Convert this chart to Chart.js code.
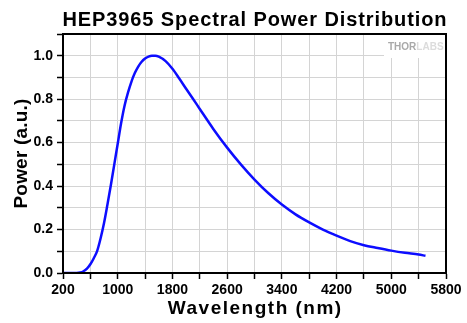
<!DOCTYPE html>
<html>
<head>
<meta charset="utf-8">
<script src="https://cdn.jsdelivr.net/npm/chart.js@4.4.1/dist/chart.umd.min.js"></script>
<style>
  html, body { margin: 0; padding: 0; background: #fff; }
  #wrap { width: 467px; height: 323px; }
</style>
</head>
<body>
<div id="wrap"><canvas id="spdChart"></canvas></div>
<script>
// Values
var wavelengths = [200, 300, 400, 450, 500, 550, 600, 650, 700, 750, 800, 850, 900, 950, 1000,
  1050, 1100, 1150, 1200, 1250, 1300, 1350, 1400, 1450, 1500, 1550, 1600, 1700, 1800, 1900,
  2000, 2100, 2200, 2400, 2600, 2800, 3000, 3200, 3400, 3600, 3800, 4000, 4200, 4400, 4600,
  4800, 5000, 5200, 5400, 5500];
var power = [0, 0, 0, 0.002, 0.008, 0.02, 0.04, 0.068, 0.102, 0.16, 0.23, 0.315, 0.405, 0.5, 0.595,
  0.69, 0.77, 0.83, 0.88, 0.92, 0.95, 0.972, 0.987, 0.996, 1.0, 1.0, 0.996, 0.975, 0.94, 0.895,
  0.848, 0.802, 0.755, 0.662, 0.577, 0.5, 0.43, 0.368, 0.315, 0.27, 0.233, 0.2, 0.172, 0.147, 0.128,
  0.115, 0.103, 0.093, 0.085, 0.079];

var chartTitle = "HEP3965 Spectral Power Distribution";
var xTitle = "Wavelength (nm)";
var yTitle = "Power (a.u.)";
var xMin = 200, xMax = 5800, xStep = 400, xLabelStep = 800;
var yMin = 0, yMax = 1.1, yStep = 0.1;

var FONT = "'Liberation Sans', Arial, sans-serif";

// titles, frame and logo drawn by hand so letter spacing can match
var decorPlugin = {
  id: "decor",
  beforeDatasetsDraw: function (chart) {
    var ctx = chart.ctx, a = chart.chartArea;
    // white patch behind logo
    ctx.save();
    ctx.fillStyle = "#fff";
    ctx.fillRect(a.right - 62, a.top, 62, 24);
    ctx.font = "bold 10px " + FONT;
    ctx.textBaseline = "middle";
    ctx.textAlign = "left";
    var lx = a.right - 58, ly = a.top + 13;
    ctx.fillStyle = "#a9a9a9";
    ctx.fillText("THOR", lx, ly);
    var w = ctx.measureText("THOR").width;
    ctx.fillStyle = "#dcdcdc";
    ctx.fillText("LABS", lx + w, ly);
    ctx.restore();
  },
  afterDraw: function (chart) {
    var ctx = chart.ctx, a = chart.chartArea;
    ctx.save();
    ctx.strokeStyle = "#000";
    ctx.lineWidth = 2;
    ctx.strokeRect(a.left, a.top, a.right - a.left, a.bottom - a.top);

    ctx.fillStyle = "#000";
    ctx.textAlign = "center";
    ctx.textBaseline = "middle";
    var cx = (a.left + a.right) / 2;

    ctx.font = "bold 20px " + FONT;
    ctx.letterSpacing = "0.9px";
    ctx.fillText(chartTitle, cx + 0.45, 20);

    ctx.font = "bold 19px " + FONT;
    ctx.letterSpacing = "1.5px";
    ctx.fillText(xTitle, cx + 0.75, 309);

    ctx.letterSpacing = "0.2px";
    ctx.translate(22, (a.top + a.bottom) / 2);
    ctx.rotate(-Math.PI / 2);
    ctx.fillText(yTitle, 0, 0);
    ctx.restore();
  }
};

var ctx = document.getElementById("spdChart").getContext("2d");
var spdChart = new Chart(ctx, {
  type: "line",
  data: {
    labels: wavelengths,
    datasets: [{
      label: "HEP3965",
      data: power,
      borderColor: "#0d0dff",
      borderWidth: 2.5,
      pointRadius: 0,
      fill: false,
      cubicInterpolationMode: "monotone"
    }]
  },
  options: {
    responsive: true,
    maintainAspectRatio: false,
    animation: false,
    layout: { padding: { top: 34, right: 21, left: 0, bottom: 0 } },
    plugins: {
      legend: { display: false },
      tooltip: { enabled: false }
    },
    scales: {
      x: {
        type: "linear",
        min: xMin,
        max: xMax,
        afterFit: function (scale) { scale.height = 50; },
        ticks: {
          stepSize: xStep,
          autoSkip: false,
          maxRotation: 0,
          padding: 3,
          color: "#000",
          font: { family: FONT, size: 14, weight: "bold" },
          callback: function (v) {
            return (v - xMin) % xLabelStep === 0 ? String(v) : "";
          }
        },
        grid: {
          color: "#d4d4d4",
          lineWidth: 1,
          tickColor: "#000",
          tickLength: 6,
          tickWidth: 1.5
        },
        border: { color: "#000", width: 2 }
      },
      y: {
        min: yMin,
        max: yMax,
        afterFit: function (scale) { scale.width = 63; },
        ticks: {
          stepSize: yStep,
          autoSkip: false,
          padding: 4,
          color: "#000",
          font: { family: FONT, size: 14, weight: "bold" },
          callback: function (v) {
            var n = Math.round(v * 10);
            return n % 2 === 0 ? (n / 10).toFixed(1) : "";
          }
        },
        grid: {
          color: "#d4d4d4",
          lineWidth: 1,
          tickColor: "#000",
          tickLength: 6,
          tickWidth: 1.5
        },
        border: { color: "#000", width: 2 }
      }
    }
  },
  plugins: [decorPlugin]
});
</script>
</body>
</html>
